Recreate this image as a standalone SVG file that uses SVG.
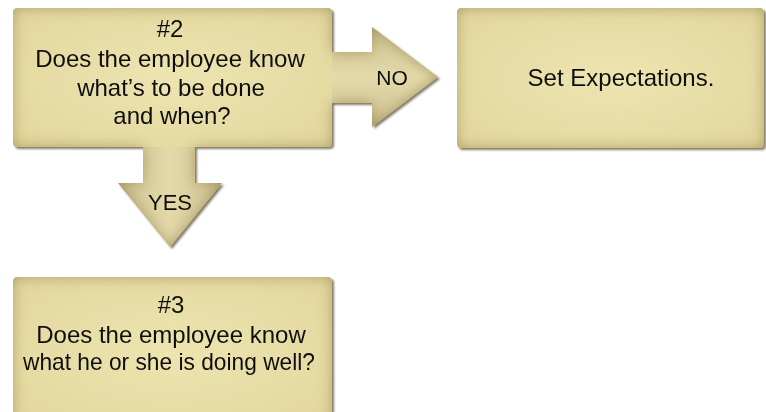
<svg xmlns="http://www.w3.org/2000/svg" width="766" height="412" viewBox="0 0 766 412">
  <defs>
    <!-- soft inner edge darkening plus a thin drop shadow -->
    <filter id="bevel" x="-5%" y="-5%" width="110%" height="115%">
      <feGaussianBlur in="SourceAlpha" stdDeviation="7" result="blur"/>
      <feComposite in="SourceAlpha" in2="blur" operator="arithmetic" k2="1" k3="-1" result="edge"/>
      <feFlood flood-color="#978748" flood-opacity="0.8"/>
      <feComposite in2="edge" operator="in" result="shade"/>
      <feOffset in="SourceAlpha" dx="1.5" dy="2" result="off"/>
      <feGaussianBlur in="off" stdDeviation="0.8" result="offb"/>
      <feFlood flood-color="#6e6650" flood-opacity="0.85"/>
      <feComposite in2="offb" operator="in" result="shadow"/>
      <feMerge>
        <feMergeNode in="shadow"/>
        <feMergeNode in="SourceGraphic"/>
        <feMergeNode in="shade"/>
      </feMerge>
    </filter>
    <radialGradient id="boxFill" cx="0.5" cy="0.5" r="0.7">
      <stop offset="0" stop-color="#ede4b0"/>
      <stop offset="1" stop-color="#e2d69c"/>
    </radialGradient>
    <linearGradient id="arrowH" x1="0" y1="0" x2="0" y2="1">
      <stop offset="0" stop-color="#cdc192"/>
      <stop offset="0.5" stop-color="#e4d9a8"/>
      <stop offset="1" stop-color="#cdc192"/>
    </linearGradient>
    <linearGradient id="arrowV" x1="0" y1="0" x2="1" y2="0">
      <stop offset="0" stop-color="#cdc192"/>
      <stop offset="0.5" stop-color="#e4d9a8"/>
      <stop offset="1" stop-color="#cdc192"/>
    </linearGradient>
    <style>
      .box { fill: url(#boxFill); }
      .arrow-h { fill: url(#arrowH); }
      .arrow-v { fill: url(#arrowV); }
      text { font-family: "Liberation Sans", Arial, sans-serif; font-size: 24px; fill: #111; text-anchor: middle; }
      .edge-label { font-size: 21px; }
    </style>
  </defs>

  <rect width="766" height="412" fill="#ffffff"/>

  <!-- question 2 and its two outgoing arrows share one filtered layer so the joins stay seamless -->
  <g filter="url(#bevel)">
    <g id="connectors">
      <g id="edge-no">
        <path class="arrow-h" d="M326 52 H372 V27 L438 77 L372 127 V103 H326 Z"/>
        <text class="edge-label" x="392" y="85">NO</text>
      </g>
      <g id="edge-yes">
        <path class="arrow-v" d="M143 140 V183 H118 L170 247 L222 183 H195 V140 Z"/>
        <text class="edge-label" x="170" y="210" style="font-size:22px">YES</text>
      </g>
    </g>
    <g id="node-q2">
      <rect class="box" x="13" y="8" width="319" height="139" rx="4"/>
      <text x="170" y="37">#2</text>
      <text x="170" y="67">Does the employee know</text>
      <text x="171" y="96">what’s to be done</text>
      <text x="172" y="124">and when?</text>
    </g>
  </g>

  <g id="node-set" filter="url(#bevel)">
    <rect class="box" x="457" y="8" width="307" height="140" rx="4"/>
    <text x="621" y="86">Set Expectations.</text>
  </g>

  <g id="node-q3" filter="url(#bevel)">
    <rect class="box" x="13" y="277" width="319" height="150" rx="4"/>
    <text x="171" y="313">#3</text>
    <text x="171" y="343">Does the employee know</text>
    <text x="169" y="370" textLength="292" lengthAdjust="spacingAndGlyphs">what he or she is doing well?</text>
  </g>
</svg>
